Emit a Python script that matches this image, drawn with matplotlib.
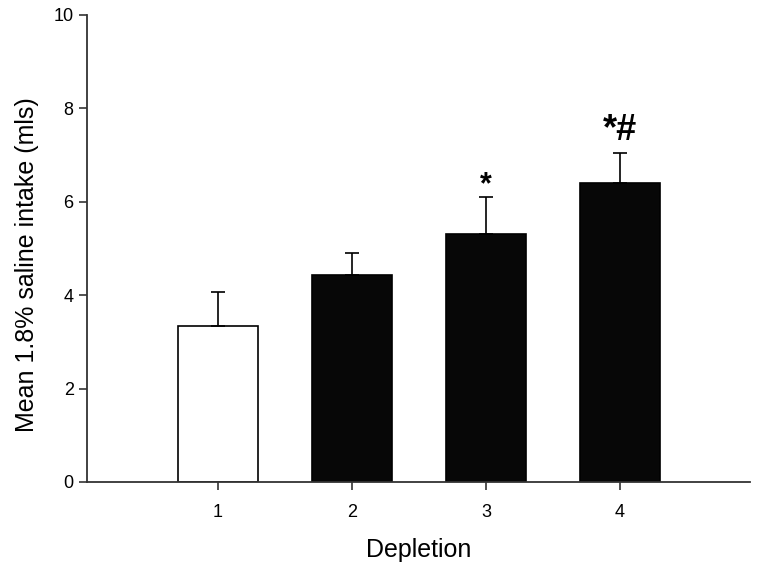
import matplotlib.pyplot as plt

plt.rcParams["font.family"] = ["Liberation Sans", "DejaVu Sans"]

depletion = [1, 2, 3, 4]
means = [3.34, 4.42, 5.31, 6.39]
sem = [0.73, 0.48, 0.78, 0.66]
colors = ["white", "#070707", "#070707", "#070707"]
marks = ["", "", "*", "*#"]

fig = plt.figure(figsize=(7.62, 5.71), dpi=100)
ax = fig.add_axes([0.114, 0.156, 0.870, 0.818])

ax.bar(depletion, means, width=0.6, color=colors, edgecolor="black", linewidth=1.2,
       yerr=[[0] * 4, sem], error_kw=dict(ecolor="black", elinewidth=1.2, capsize=5, capthick=1.2))

for x, m, e, lab in zip(depletion, means, sem, marks):
    if lab == "*":
        ax.text(x, m + e - 0.07, lab, ha="center", va="bottom", fontsize=22, fontweight="bold")
    elif lab:
        ax.text(x, m + e + 0.1, lab, ha="center", va="bottom", fontsize=26, fontweight="bold")

ax.set_xlim(0.02, 4.97)
ax.set_ylim(0, 10)
ax.set_yticks([0, 2, 4, 6, 8, 10])
ax.set_xticks(depletion)
ax.spines["top"].set_visible(False)
ax.spines["right"].set_visible(False)
for s in ["left", "bottom"]:
    ax.spines[s].set_linewidth(1.3)
    ax.spines[s].set_color("#333333")
ax.tick_params(length=6, width=1.2, labelsize=13, color="#333333")
ax.tick_params(axis="x", pad=10)
ax.set_xlabel("Depletion", fontsize=18, labelpad=12)
ax.set_ylabel("Mean 1.8% saline intake (mls)", fontsize=18)
ax.yaxis.set_label_coords(-0.072, 0.465)

fig.savefig("out.png", dpi=100)
